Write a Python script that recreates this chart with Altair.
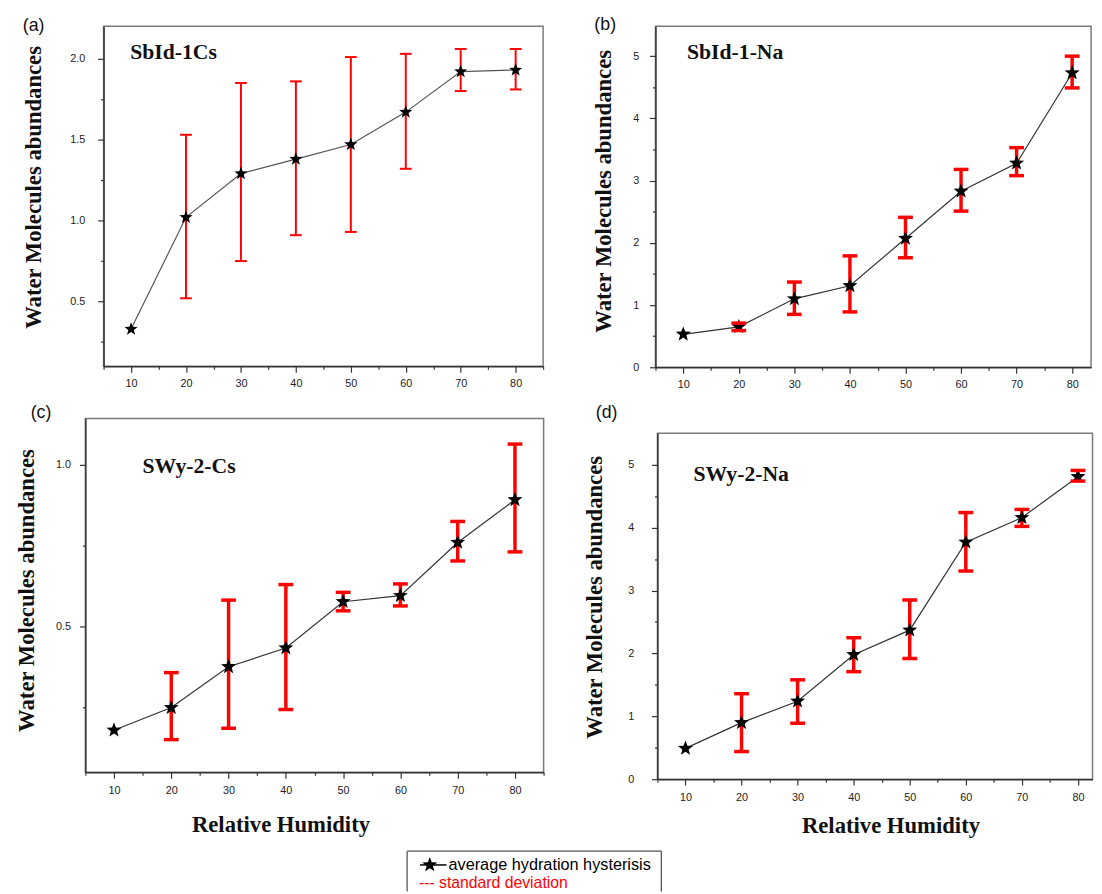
import altair as alt
import pandas as pd

# ---------------- data ----------------
rh = [10, 20, 30, 40, 50, 60, 70, 80]

a_mean = [0.33, 1.02, 1.29, 1.38, 1.47, 1.67, 1.92, 1.93]
a_lo = [None, 0.52, 0.75, 0.91, 0.93, 1.32, 1.80, 1.81]
a_hi = [None, 1.53, 1.85, 1.86, 2.01, 2.03, 2.06, 2.06]

b_mean = [0.53, 0.65, 1.10, 1.31, 2.07, 2.83, 3.28, 4.73]
b_lo = [None, 0.59, 0.85, 0.89, 1.76, 2.51, 3.08, 4.49]
b_hi = [None, 0.71, 1.37, 1.79, 2.41, 3.18, 3.53, 5.00]

c_mean = [0.18, 0.25, 0.376, 0.434, 0.577, 0.596, 0.76, 0.892]
c_lo = [None, 0.151, 0.186, 0.244, 0.549, 0.564, 0.703, 0.731]
c_hi = [None, 0.358, 0.582, 0.630, 0.606, 0.632, 0.825, 1.064]

d_mean = [0.49, 0.90, 1.24, 1.98, 2.37, 3.77, 4.16, 4.81]
d_lo = [None, 0.44, 0.89, 1.71, 1.92, 3.31, 4.02, 4.74]
d_hi = [None, 1.36, 1.58, 2.25, 2.85, 4.24, 4.29, 4.91]

x_ticks_full = [5, 10, 15, 20, 25, 30, 35, 40, 45, 50, 55, 60, 65, 70, 75, 80, 85]
x_ticks_cut = [5, 10, 15, 20, 25, 30, 35, 40, 45, 50, 55, 60, 65, 70, 75, 80]
a_yticks = [0.25, 0.5, 0.75, 1.0, 1.25, 1.5, 1.75, 2.0]
c_yticks = [0.25, 0.5, 0.75, 1.0]
na_yticks = [0, 0.5, 1, 1.5, 2, 2.5, 3, 3.5, 4, 4.5, 5]

legend_labels = ["average hydration hysterisis", "--- standard deviation"]
legend_colors = ["#000000", "#ff0000"]

Y_TITLE = "Water Molecules abundances"
X_TITLE = "Relative Humidity"

STAR = ("M0,-1L0.247,-0.34L0.951,-0.309L0.399,0.13L0.588,0.809L0,0.42"
        "L-0.588,0.809L-0.399,0.13L-0.951,-0.309L-0.247,-0.34Z")

RED = "#ff0000"
GUIDE_COLOR = "white"   # invisible layout guides

HALF_TEST_MINOR = "abs(datum.value*2 - round(datum.value*2)) > 0.001"
HALF_LABEL = "abs(datum.value*2 - round(datum.value*2)) < 0.001 ? format(datum.value, '.1f') : ''"
INT_TEST_MINOR = "abs(datum.value - round(datum.value)) > 0.001"
INT_LABEL = "abs(datum.value - round(datum.value)) < 0.001 ? format(datum.value, 'd') : ''"

ONE = pd.DataFrame({"k": [0]})


def guide(x, y, y2):
    return alt.Chart(ONE).mark_rule(color=GUIDE_COLOR, strokeWidth=0.01).encode(
        x=alt.value(x), y=alt.value(y), y2=alt.value(y2))


def letter_mark(letter, pos):
    return alt.Chart(pd.DataFrame({"t": [letter]})).mark_text(
        align="center", baseline="middle", font="Liberation Sans",
        fontSize=18, color="#111111").encode(
        x=alt.value(pos[0]), y=alt.value(pos[1]), text="t:N")


def spacer(extra=None):
    layers = [guide(0, 0, 1)]
    if extra:
        layers += extra
    return alt.layer(*layers).properties(
        width=1, height=1, view=alt.ViewBackground(stroke="transparent"))


def make_panel(mean, lo, hi, name, letter, w, h, xdom, xvals, ydom, yvals,
               ytest, ylabel, ylabpad, xlabpad, ytx, yty, xtitle,
               letter_pos, name_pos, ext_left, ext_right, star_size, sw, cap,
               line_color):
    df = pd.DataFrame({"rh": rh, "mean": mean, "lo": lo, "hi": hi})
    err = df.dropna().reset_index(drop=True)

    xs = alt.Scale(domain=xdom, nice=False, zero=False)
    ys = alt.Scale(domain=ydom, nice=False, zero=False)

    xaxis_kw = dict(
        values=xvals,
        labelExpr="datum.value % 10 == 0 ? format(datum.value, 'd') : ''",
        tickSize={"condition": {"test": "datum.value % 10 != 0", "value": 3}, "value": 6},
        labelPadding=xlabpad,
        labelOverlap=False,
        labelFlush=False,
    )
    if xtitle is None:
        x_axis = alt.Axis(title=None, **xaxis_kw)
    else:
        x_axis = alt.Axis(title=X_TITLE, titleX=xtitle[0], titleY=xtitle[1],
                          titleAlign="center", titleBaseline="middle",
                          titleAngle=0, **xaxis_kw)
    y_axis = alt.Axis(
        values=yvals,
        labelExpr=ylabel,
        tickSize={"condition": {"test": ytest, "value": 3}, "value": 6},
        labelPadding=ylabpad,
        labelOverlap=False,
        title=Y_TITLE, titleX=ytx, titleY=yty, titleAngle=270,
        titleAlign="center", titleBaseline="middle",
    )

    def X():
        return alt.X("rh:Q", scale=xs, axis=x_axis)

    def Y(field):
        return alt.Y(f"{field}:Q", scale=ys, axis=y_axis)

    line = alt.Chart(df).mark_line(color=line_color, strokeWidth=1.2).encode(
        x=X(), y=Y("mean"))
    rule = alt.Chart(err).mark_rule(color=RED, strokeWidth=sw).encode(
        x=X(), y=Y("lo"), y2="hi:Q")
    stars = alt.Chart(df).mark_point(shape=STAR, filled=True, color="#000000",
                                     size=star_size, opacity=1, strokeWidth=0).encode(
        x=X(), y=Y("mean"))
    cap_lo = alt.Chart(err).mark_tick(orient="horizontal", color=RED, size=cap,
                                      thickness=sw, opacity=1).encode(x=X(), y=Y("lo"))
    cap_hi = alt.Chart(err).mark_tick(orient="horizontal", color=RED, size=cap,
                                      thickness=sw, opacity=1).encode(x=X(), y=Y("hi"))

    name_txt = alt.Chart(pd.DataFrame({"t": [name]})).mark_text(
        align="left", baseline="middle", font="Liberation Serif",
        fontWeight="bold", fontSize=22, color="#111111").encode(
        x=alt.value(name_pos[0]), y=alt.value(name_pos[1]), text="t:N")

    layers = [line, rule, stars, cap_lo, cap_hi, name_txt]
    if letter is not None:
        layers.append(letter_mark(letter, letter_pos))
    layers.append(guide(*ext_left))
    if ext_right is not None:
        layers.append(guide(ext_right, 0, 1))
    return alt.layer(*layers).properties(width=w, height=h)


A = make_panel(a_mean, a_lo, a_hi, "SbId-1Cs", "(a)", 446, 345, [5, 85], x_ticks_full,
               [0.1, 2.2], a_yticks, HALF_TEST_MINOR, HALF_LABEL, 13, 6,
               -71, 163, None, (-71, 0), (27, 26), (-83, -11, 376), 447,
               196, 2, 12, "#555555")
B = make_panel(b_mean, b_lo, b_hi, "SbId-1-Na", "(b)", 442, 346, [5, 83.4], x_ticks_cut,
               [0, 5.48], na_yticks, INT_TEST_MINOR, INT_LABEL, 11, 6,
               -53, 167, None, (-51, -1.5), (32, 26), (-101, -11, 376), None,
               256, 3.5, 15, "#333333")
C = make_panel(c_mean, c_lo, c_hi, "SWy-2-Cs", "(c)", 465, 359, [5, 85], x_ticks_full,
               [0.05, 1.143], c_yticks, HALF_TEST_MINOR, HALF_LABEL, 9, 7,
               -60, 174, (198, 53), (-45, -6), (58, 48), (-71.5, -18, 430), 467,
               256, 3.5, 15, "#333333")
D = make_panel(d_mean, d_lo, d_hi, "SWy-2-Na", None, 441.5, 351, [5, 82.6], x_ticks_cut,
               [0, 5.5], na_yticks, INT_TEST_MINOR, INT_LABEL, 18, 7,
               -63.5, 166, (236.5, 47), None, (36.5, 41), (-109, 0, 419), None,
               256, 3.5, 15, "#333333")

# spacer holding the "(d)" letter, sits above panel (d)
SD = spacer([letter_mark("(d)", (-51.5, -6)), guide(-109, -18, 1)])

# ---------------- legend row ----------------
box_col = "#555555"
leg_layers = [
    alt.Chart(ONE).mark_rule(color=box_col, strokeWidth=1.3).encode(
        x=alt.value(401), x2=alt.value(659), y=alt.value(0)),
    alt.Chart(ONE).mark_rule(color=box_col, strokeWidth=1.3).encode(
        x=alt.value(401), y=alt.value(0), y2=alt.value(41)),
    alt.Chart(ONE).mark_rule(color=box_col, strokeWidth=1.3).encode(
        x=alt.value(659), y=alt.value(0), y2=alt.value(41)),
    alt.Chart(ONE).mark_rule(color="#000000", strokeWidth=1.5).encode(
        x=alt.value(414), x2=alt.value(441), y=alt.value(14)),
    alt.Chart(ONE).mark_point(shape=STAR, filled=True, color="#000000", size=256,
                              opacity=1, strokeWidth=0).encode(
        x=alt.value(424), y=alt.value(14)),
    alt.Chart(pd.DataFrame({"t": [legend_labels[0]]})).mark_text(
        align="left", baseline="middle", font="Liberation Sans", fontSize=16.5,
        color=legend_colors[0]).encode(x=alt.value(443), y=alt.value(14), text="t:N"),
    alt.Chart(pd.DataFrame({"t": [legend_labels[1]]})).mark_text(
        align="left", baseline="middle", font="Liberation Sans", fontSize=16,
        color=legend_colors[1]).encode(x=alt.value(413), y=alt.value(32), text="t:N"),
]
LEG = alt.layer(*leg_layers).properties(
    width=660, height=30, view=alt.ViewBackground(stroke="transparent"))

row1 = alt.hconcat(spacer(), A, B, spacing=10)
row2 = alt.hconcat(spacer(), C, alt.vconcat(SD, D, spacing=10), spacing=2.5)
row3 = alt.hconcat(spacer(), LEG, spacing=0)

chart = alt.vconcat(row1, row2, row3, spacing=2).properties(
    padding={"left": 0, "top": 0, "right": 0, "bottom": 0}
).configure_view(
    stroke="#7a7a7a", strokeWidth=1.5
).configure_axis(
    labelFont="Liberation Sans", labelFontSize=11, labelColor="#222222",
    tickColor="#333333", tickWidth=1.2, domainColor="#333333", domainWidth=1.5,
    grid=False, titleFont="Liberation Serif", titleFontWeight="bold",
    titleFontSize=23, titleColor="#111111",
)

chart.save("out.html", embed_options={"renderer": "svg", "actions": False})
